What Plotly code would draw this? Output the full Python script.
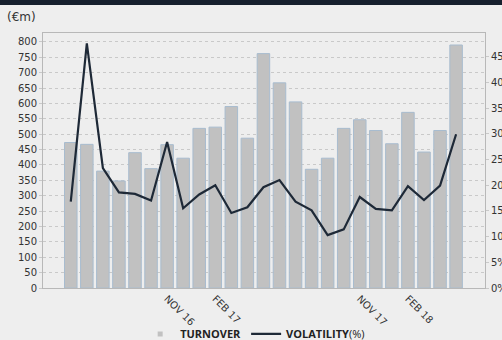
import plotly.graph_objects as go

# Monthly turnover (EUR m) and volatility (%), May 2016 - May 2018
months = ["2016-05", "2016-06", "2016-07", "2016-08", "2016-09", "2016-10",
          "2016-11", "2016-12", "2017-01", "2017-02", "2017-03", "2017-04",
          "2017-05", "2017-06", "2017-07", "2017-08", "2017-09", "2017-10",
          "2017-11", "2017-12", "2018-01", "2018-02", "2018-03", "2018-04",
          "2018-05"]
turnover = [473, 467, 380, 348, 440, 388, 466, 422, 519, 523, 590, 487,
            762, 667, 605, 386, 422, 519, 547, 512, 469, 571, 442, 512, 790]
volatility = [16.8, 47.6, 23.3, 18.6, 18.3, 17.0, 28.4, 15.5, 18.2, 20.0,
              14.6, 15.7, 19.6, 21.0, 16.8, 15.1, 10.3, 11.4, 17.7, 15.4,
              15.1, 19.8, 17.1, 19.9, 29.9]

tick_months = ["2016-11", "2017-02", "2017-11", "2018-02"]
tick_text = ["NOV 16", "FEB 17", "NOV 17", "FEB 18"]

BAR_FILL = "#c1c1c1"
BAR_EDGE = "#a8bccf"
LINE_COL = "#1e2937"
FONT = "DejaVu Sans"

fig = go.Figure()

fig.add_trace(go.Bar(
    x=months, y=turnover, name="TURNOVER",
    marker=dict(color=BAR_FILL, line=dict(color=BAR_EDGE, width=1)),
    showlegend=False, yaxis="y",
))
# legend swatch for the bars: a small square
fig.add_trace(go.Scatter(
    x=[None], y=[None], mode="markers", name="<b>TURNOVER</b>",
    marker=dict(symbol="square", size=5, color=BAR_FILL),
))
fig.add_trace(go.Scatter(
    x=months, y=volatility, name="<b>VOLATILITY</b>(%)", mode="lines",
    line=dict(color=LINE_COL, width=2.2), yaxis="y2",
))

fig.update_layout(
    width=502, height=340,
    margin=dict(l=43, r=17, t=33, b=52, autoexpand=False),
    paper_bgcolor="#eeeeee", plot_bgcolor="#eeeeee",
    font=dict(family=FONT, size=10, color="#333333"),
    bargap=0.22,
    xaxis=dict(
        type="category", range=[-1.73, 25.8],
        tickmode="array", tickvals=tick_months, ticktext=tick_text,
        tickangle=45, showgrid=False,
        showline=True, linecolor="#b8b8b8", linewidth=1, mirror=True,
        ticks="", automargin=False,
        tickfont=dict(size=10, color="#333333"),
    ),
    yaxis=dict(
        range=[0, 829], dtick=50, tick0=0,
        showgrid=True, gridcolor="#c9c9c9", griddash="dot", gridwidth=1,
        showline=True, linecolor="#b8b8b8", linewidth=1, mirror=True,
        ticks="outside", ticklen=3, tickcolor="#c9c9c9",
        zeroline=False, automargin=False,
    ),
    yaxis2=dict(
        range=[0, 49.6], dtick=5, tick0=0, overlaying="y", side="right",
        ticksuffix="%", showgrid=False, zeroline=False,
        ticks="outside", ticklen=3, tickcolor="#c9c9c9",
        automargin=False,
    ),
    legend=dict(
        orientation="h", x=0.48, xanchor="center", y=-0.18, yanchor="middle",
        font=dict(family="Open Sans", size=11, color="#222222"),
        bgcolor="rgba(0,0,0,0)", itemwidth=30, tracegroupgap=0,
    ),
    shapes=[dict(
        type="rect", xref="paper", yref="paper",
        x0=-0.2, x1=1.2, y0=(288 - 5) / 255, y1=1.3,
        fillcolor="#16202e", line=dict(width=0), layer="above",
    )],
    annotations=[dict(
        text="(€m)", xref="paper", yref="paper",
        x=-38 / 442, y=(288 - 17) / 255, xanchor="left", yanchor="middle",
        showarrow=False, font=dict(family=FONT, size=12, color="#333333"),
    )],
)

fig.write_html("out.html")
